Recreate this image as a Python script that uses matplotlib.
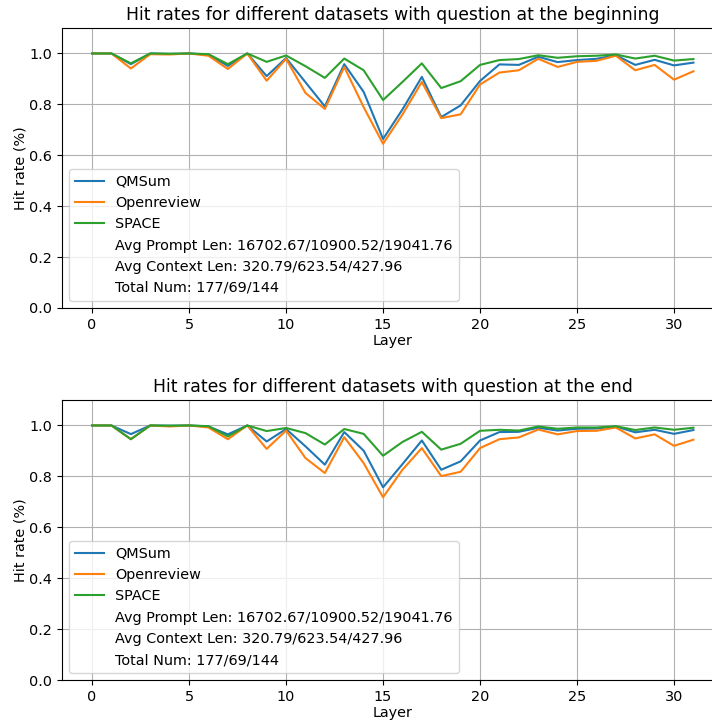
import matplotlib
matplotlib.use("Agg")
import matplotlib.pyplot as plt
from matplotlib.lines import Line2D

layers = list(range(32))

qmsum_begin = [1.0, 1.0, 0.958, 1.0, 0.998, 1.0, 0.995, 0.951, 1.0, 0.911, 0.982, 0.887, 0.792, 0.958, 0.849, 0.664,
               0.78, 0.908, 0.75, 0.796, 0.892, 0.957, 0.955, 0.987, 0.966, 0.974, 0.979, 0.993, 0.955, 0.975, 0.953, 0.964]
openreview_begin = [1.0, 1.0, 0.941, 0.997, 0.996, 1.0, 0.991, 0.939, 1.0, 0.893, 0.979, 0.845, 0.782, 0.947, 0.789, 0.645,
                    0.76, 0.888, 0.746, 0.761, 0.878, 0.925, 0.934, 0.979, 0.947, 0.967, 0.971, 0.991, 0.934, 0.955, 0.897, 0.93]
space_begin = [1.0, 1.0, 0.961, 1.0, 0.999, 1.0, 0.997, 0.958, 1.0, 0.967, 0.992, 0.95, 0.904, 0.98, 0.934, 0.817,
               0.888, 0.961, 0.864, 0.891, 0.955, 0.974, 0.978, 0.993, 0.983, 0.989, 0.991, 0.996, 0.98, 0.991, 0.972, 0.978]

qmsum_end = [1.0, 1.0, 0.966, 1.0, 0.999, 1.0, 0.996, 0.965, 1.0, 0.937, 0.986, 0.918, 0.846, 0.974, 0.901, 0.757,
             0.848, 0.941, 0.826, 0.859, 0.941, 0.974, 0.975, 0.991, 0.98, 0.987, 0.988, 0.996, 0.973, 0.983, 0.967, 0.982]
openreview_end = [1.0, 1.0, 0.946, 1.0, 0.996, 1.0, 0.992, 0.946, 1.0, 0.908, 0.98, 0.872, 0.813, 0.954, 0.852, 0.718,
                  0.826, 0.911, 0.801, 0.818, 0.911, 0.946, 0.953, 0.984, 0.965, 0.978, 0.979, 0.992, 0.949, 0.965, 0.92, 0.944]
space_end = [1.0, 1.0, 0.946, 1.0, 0.999, 1.0, 0.997, 0.957, 1.0, 0.978, 0.99, 0.97, 0.925, 0.986, 0.967, 0.881,
             0.935, 0.975, 0.905, 0.928, 0.979, 0.983, 0.98, 0.996, 0.987, 0.992, 0.992, 0.997, 0.982, 0.992, 0.983, 0.991]

series_names = ["QMSum", "Openreview", "SPACE"]
extra_labels = ["Avg Prompt Len: 16702.67/10900.52/19041.76",
                "Avg Context Len: 320.79/623.54/427.96",
                "Total Num: 177/69/144"]
titles = ["Hit rates for different datasets with question at the beginning",
          "Hit rates for different datasets with question at the end"]

W, H = 712, 722
fig = plt.figure(figsize=(W / 100, H / 100), dpi=100)

fs = 10.4
panels = [
    (titles[0], [qmsum_begin, openreview_begin, space_begin], (62, 28, 723.5, 308)),
    (titles[1], [qmsum_end, openreview_end, space_end], (62, 400, 723.5, 680)),
]

for title, data, (l, t, r, b) in panels:
    ax = fig.add_axes([l / W, 1 - b / H, (r - l) / W, (b - t) / H])
    for name, vals in zip(series_names, data):
        ax.plot(layers, vals, label=name)
    ax.set_ylim(0, 1.1)
    ax.set_xlim(-1.55, 32.55)
    ax.grid(True)
    ax.set_xlabel("Layer", fontsize=fs, labelpad=2)
    ax.set_ylabel("Hit rate (%)", fontsize=fs, labelpad=1)
    ax.set_title(title, fontsize=12.45)
    ax.tick_params(labelsize=fs)
    handles, labels = ax.get_legend_handles_labels()
    for txt in extra_labels:
        handles.append(Line2D([], [], linestyle="none", marker=None))
        labels.append(txt)
    ax.legend(handles, labels, loc="lower left", fontsize=fs)

fig.savefig("out.png", dpi=100)
